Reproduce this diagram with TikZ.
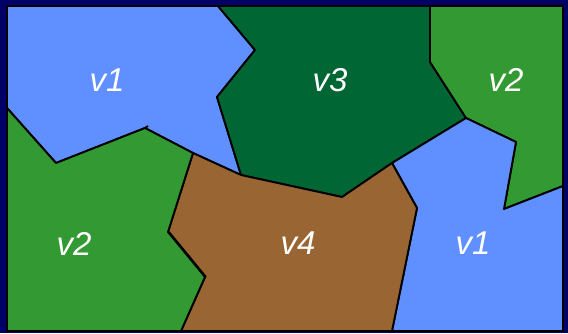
\documentclass[tikz,border=0pt]{standalone}
\usepackage{fontspec}
\setmainfont{Liberation Sans}
\usetikzlibrary{calc}

\definecolor{navy}{RGB}{0,0,102}
\definecolor{regblue}{RGB}{96,144,255}
\definecolor{reggreen}{RGB}{51,153,51}
\definecolor{regdark}{RGB}{0,102,51}
\definecolor{regbrown}{RGB}{153,102,51}

\begin{document}
\begin{tikzpicture}[x=1pt,y=-1pt,
    region/.style = {draw=black,line width=1.9pt,line join=round},
    colour/.style = {text=white,font=\fontsize{33}{36}\selectfont\itshape},
  ]
  \useasboundingbox (0,0) rectangle (568,333);
  \fill[navy] (0,0) rectangle (568,333);
  % corners of the map
  \coordinate (tl) at (7,6);
  \coordinate (tr) at (563,6);
  \coordinate (bl) at (7,331);
  \coordinate (br) at (563,331);
  % border points
  \coordinate (a) at (218,6);
  \coordinate (b) at (430,6);
  \coordinate (c) at (7,108);
  \coordinate (d) at (563,186);
  \coordinate (e) at (181,331);
  \coordinate (f) at (392,331);
  % inner points
  \coordinate (p1) at (255,50);
  \coordinate (p2) at (217,97);
  \coordinate (p3) at (241,175);
  \coordinate (p4) at (193,153);
  \coordinate (p5) at (145,128);
  \coordinate (p6) at (56,163);
  \coordinate (q1) at (430,62);
  \coordinate (q2) at (466,118);
  \coordinate (q3) at (392,163);
  \coordinate (q4) at (342,197);
  \coordinate (q5) at (516,142);
  \coordinate (q6) at (504,209);
  \coordinate (q7) at (417,208);
  \coordinate (r1) at (168,232);
  \coordinate (r2) at (205,277);

  \draw[region,fill=regblue] (tl) -- (a) -- (p1) -- (p2) -- (p3) -- (p4) -- (p5) -- (p6) -- (c) -- cycle;
  \draw[region,fill=regdark] (a) -- (b) -- (q1) -- (q2) -- (q3) -- (q4) -- (p3) -- (p2) -- (p1) -- cycle;
  \draw[region,fill=reggreen] (b) -- (tr) -- (d) -- (q6) -- (q5) -- (q2) -- (q1) -- cycle;
  \draw[region,fill=regblue] (q2) -- (q5) -- (q6) -- (d) -- (br) -- (f) -- (q7) -- (q3) -- cycle;
  \draw[region,fill=regbrown] (p3) -- (q4) -- (q3) -- (q7) -- (f) -- (e) -- (r2) -- (r1) -- (p4) -- cycle;
  \draw[region,fill=reggreen] (c) -- (p6) -- (p5) -- (p4) -- (r1) -- (r2) -- (e) -- (bl) -- cycle;
  \draw[line width=1.9pt] (p5) -- (148,126);
  \draw[line width=1.9pt] ([xshift=1pt]r1) -- ([xshift=1pt]r2);

  % colour of each region
  \node[colour] (n1) at (107,80) {v1};
  \node[colour] (n3) at (330,80) {v3};
  \node[colour] (n2) at (506,80) {v2};
  \node[colour] (m2) at (74,244) {v2};
  \node[colour] (m4) at (298,243) {v4};
  \node[colour] (m1) at (473,243) {v1};
\end{tikzpicture}
\end{document}
